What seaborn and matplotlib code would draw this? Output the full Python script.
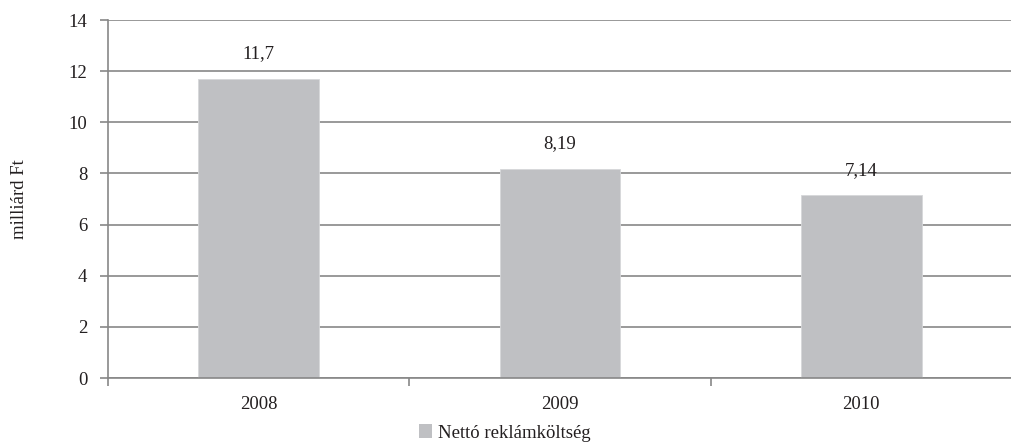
import matplotlib
matplotlib.use("Agg")
import matplotlib.pyplot as plt
import seaborn as sns
import pandas as pd
from matplotlib.patches import Patch

# adatok
years = ["2008", "2009", "2010"]
values = [11.7, 8.19, 7.14]
value_labels = ["11,7", "8,19", "7,14"]
series_name = "Nettó reklámköltség"

df = pd.DataFrame({"ev": years, "ertek": values})

sns.set_style("white")
plt.rcParams["font.family"] = ["Liberation Serif", "DejaVu Serif"]

grid_col = "#878787"
text_col = "#231f20"
bar_col = "#bfc0c3"
fs = 13.5

fig = plt.figure(figsize=(10.12, 4.44), dpi=100)
ax = fig.add_axes([108 / 1012, 66 / 444, 1 - 108 / 1012, 358 / 444])

sns.barplot(data=df, x="ev", y="ertek", color=bar_col, width=0.4,
            saturation=1, edgecolor="#d6d7d9", linewidth=0.6, ax=ax, zorder=3)

ax.set_xlim(-0.5, 2.5)
ax.set_ylim(0, 14)
ax.set_yticks(range(0, 15, 2))
ax.yaxis.grid(True, color=grid_col, linewidth=1.2, zorder=0)
ax.set_axisbelow(True)

for s in ["top", "right"]:
    ax.spines[s].set_visible(False)
for s in ["left", "bottom"]:
    ax.spines[s].set_color(grid_col)
    ax.spines[s].set_linewidth(1.2)
ax.spines["bottom"].set_zorder(4)

# y tengely jelölések kifelé
ax.tick_params(axis="y", direction="out", length=6, width=1.2, color=grid_col,
               labelsize=fs, labelcolor=text_col, pad=9, left=True)
# x tengely: csak a kategóriahatárokon jelölés
ax.tick_params(axis="x", which="major", length=0, labelsize=fs,
               labelcolor=text_col, pad=13)
ax.set_xticks([-0.5, 0.5, 1.5], minor=True)
ax.tick_params(axis="x", which="minor", direction="out", length=6, width=1.2,
               color=grid_col, bottom=True)

ax.set_xlabel("")
ax.set_ylabel("milliárd Ft", fontsize=fs, color=text_col, labelpad=29)

for i, (v, lab) in enumerate(zip(values, value_labels)):
    ax.annotate(lab, (i, v), xytext=(0, 12), textcoords="offset points",
                ha="center", va="bottom", fontsize=fs, color=text_col)

handles = [Patch(facecolor=bar_col, edgecolor="none", label=series_name)]
fig.legend(handles=handles, loc="center", bbox_to_anchor=(505 / 1012, 1 - 433 / 444),
           frameon=False, fontsize=fs, handlelength=0.7, handleheight=0.7,
           handletextpad=0.3, labelcolor=text_col)

fig.savefig("out.png", dpi=100)
